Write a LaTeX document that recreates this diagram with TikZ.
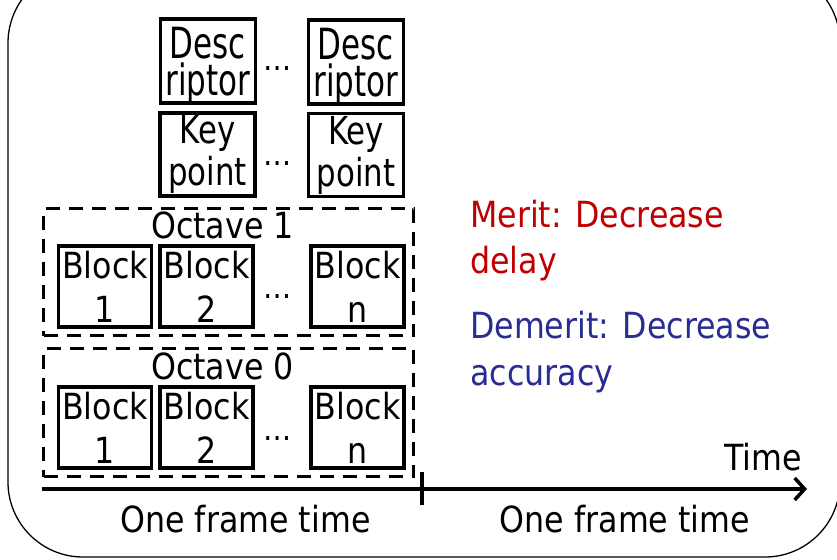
\documentclass[tikz,border=0pt]{standalone}
\usepackage{fontspec}
\setmainfont{DejaVu Sans}[FakeStretch=0.88]
\newfontfamily\descfont{DejaVu Sans}[FakeStretch=0.72]
\newfontfamily\keyfont{DejaVu Sans}[FakeStretch=0.8]
\usetikzlibrary{arrows.meta}
\definecolor{meritred}{RGB}{192,0,0}
\definecolor{demeritblue}{RGB}{40,45,145}
\tikzset{
  box/.style={draw, rectangle, line width=3.6pt, inner sep=0pt, align=center},
  descbox/.style={box, minimum width=95pt, minimum height=84pt,
    font=\descfont\fontsize{43}{37}\selectfont, text depth=0pt},
  keybox/.style={box, minimum width=95pt, minimum height=83pt,
    font=\keyfont\fontsize{38.5}{42}\selectfont},
  blockbox/.style={box, minimum width=93pt, minimum height=81pt,
    font=\fontsize{36}{44}\selectfont},
  octave/.style={draw, rectangle, dashed, dash pattern=on 14pt off 9pt,
    line width=3.5pt, inner sep=0pt, minimum width=370pt},
  lbl/.style={font=\fontsize{36}{44}\selectfont, inner sep=0pt},
  dots/.style={font=\fontsize{32}{32}\selectfont, inner sep=0pt, anchor=base},
  axis/.style={line width=3.5pt},
}
\begin{document}
\begin{tikzpicture}[x=1pt, y=-1pt]
  \useasboundingbox (0,0) rectangle (837,559);
  % outer frame
  \draw[line width=1.3pt, rounded corners=75pt] (8,-32) rectangle (840,557);

  % descriptors and keypoints
  \node[descbox] (d1) at (208,61) {Desc\\riptor};
  \node[descbox] (d2) at (356,62) {Desc\\riptor};
  \node[dots] (dd) at (278,71) {…};
  \node[keybox] (k1) at (207.5,154.5) {Key\\point};
  \node[keybox] (k2) at (356,155) {Key\\point};
  \node[dots] (kd) at (278,165) {…};

  % octave 1
  \node[octave, minimum height=127pt] (o1) at (228.5,272) {};
  \node[lbl, anchor=base] (o1l) at (222.5,238) {Octave 1};
  \node[blockbox] (b11) at (105,286.5) {Block\\1};
  \node[blockbox] (b12) at (206.5,286.5) {Block\\2};
  \node[blockbox] (b1n) at (357.5,286.5) {Block\\n};
  \node[dots] (b1d) at (278,298) {…};

  % octave 0
  \node[octave, minimum height=128pt] (o0) at (228.5,412.5) {};
  \node[lbl, anchor=base] (o0l) at (222.5,379) {Octave 0};
  \node[blockbox] (b01) at (105,427.5) {Block\\1};
  \node[blockbox] (b02) at (206.5,427.5) {Block\\2};
  \node[blockbox] (b0n) at (357.5,427.5) {Block\\n};
  \node[dots] (b0d) at (278,440) {…};

  % merit / demerit
  \node[lbl, align=left, anchor=base west, text=meritred,
        font=\fontsize{36}{46}\selectfont] (merit) at (470,273)
        {Merit: Decrease\\delay};
  \node[lbl, align=left, anchor=base west, text=demeritblue,
        font=\fontsize{36}{47}\selectfont] (demerit) at (470,385)
        {Demerit: Decrease\\accuracy};

  % time axis
  \coordinate (t0) at (42,489);
  \coordinate (t1) at (807,489);
  \coordinate (tickA) at (422,472);
  \coordinate (tickB) at (422,505);
  \draw[axis, -{Straight Barb[length=10pt, width=22pt]}] (t0) -- (t1);
  \draw[axis] (tickA) -- (tickB);
  \node[lbl, anchor=base east] (time) at (802,470) {Time};
  \node[lbl, anchor=base] (f1) at (245.5,532) {One frame time};
  \node[lbl, anchor=base] (f2) at (625,532) {One frame time};
\end{tikzpicture}
\end{document}
